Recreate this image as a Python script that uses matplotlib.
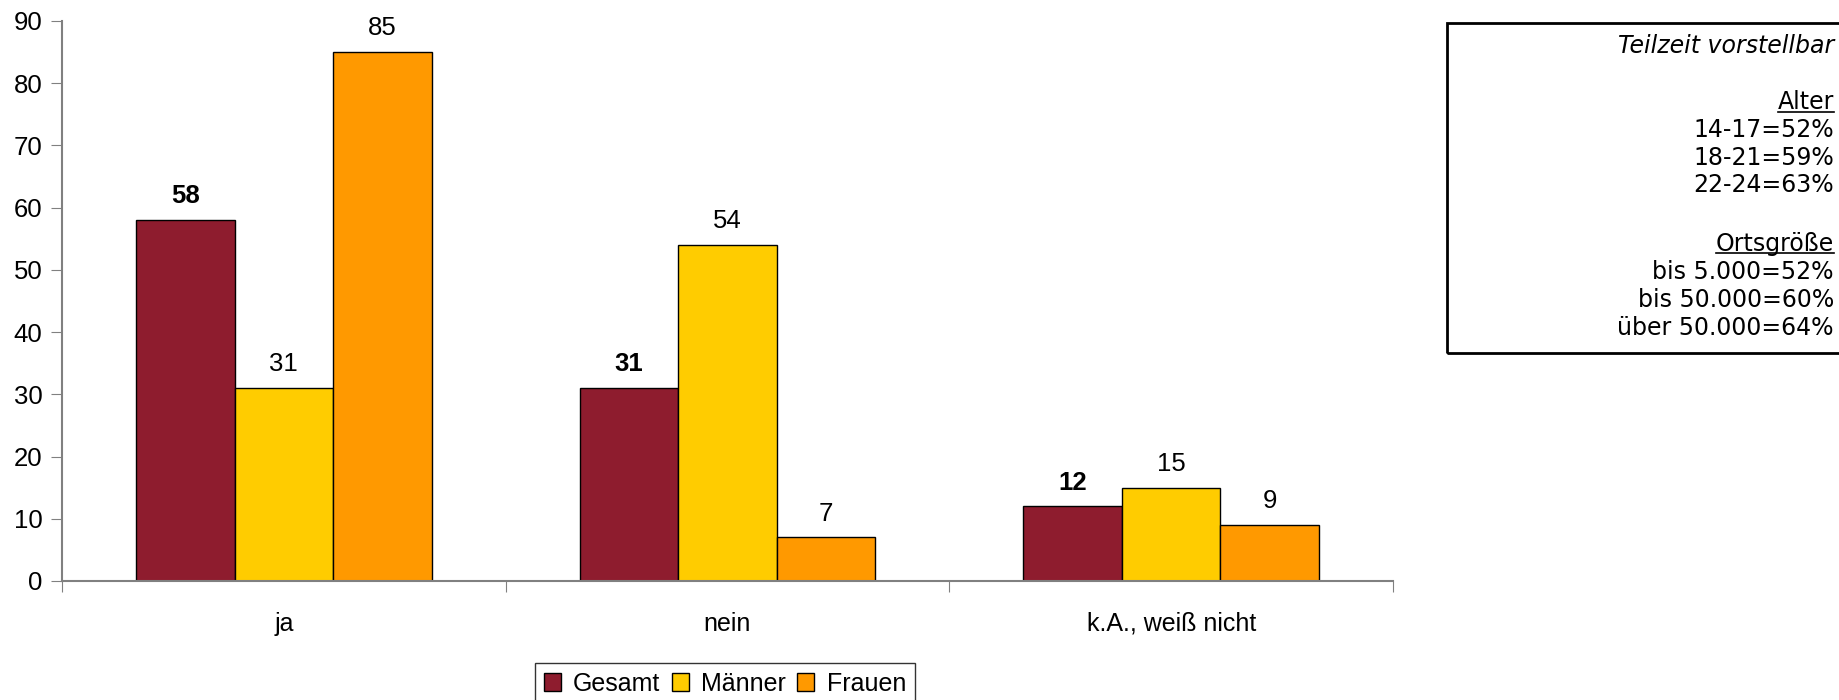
import matplotlib.pyplot as plt
import numpy as np
from matplotlib.lines import Line2D
from matplotlib.patches import Rectangle

CATEGORIES = ["ja", "nein", "k.A., weiß nicht"]
SERIES = ["Gesamt", "Männer", "Frauen"]
GESAMT = [58, 31, 12]
MAENNER = [31, 54, 15]
FRAUEN = [85, 7, 9]
COLORS = ["#8E1C2E", "#FFCC00", "#FF9900"]

BOX_TITLE = "Teilzeit vorstellbar"
ALTER = ["14-17=52%", "18-21=59%", "22-24=63%"]
ORT = ["bis 5.000=52%", "bis 50.000=60%", "über 50.000=64%"]

W, H = 1840, 700
SANS = "Liberation Sans"
fig = plt.figure(figsize=(W / 100, H / 100), dpi=100)
ax = fig.add_axes([62 / W, 1 - 581 / H, (1393 - 62) / W, (581 - 21) / H])

x = np.arange(len(CATEGORIES))
bw = 0.222
for k, (vals, col) in enumerate(zip([GESAMT, MAENNER, FRAUEN], COLORS)):
    bars = ax.bar(x + (k - 1) * bw, vals, bw, color=col, edgecolor="black",
                  linewidth=1.0, label=SERIES[k], zorder=2)
    for b, v in zip(bars, vals):
        ax.annotate(str(v), (b.get_x() + b.get_width() / 2, v), xytext=(0, 12),
                    textcoords="offset points", ha="center", va="baseline",
                    fontsize=18.5, family=SANS,
                    fontweight="bold" if k == 0 else "normal")

ax.set_xlim(-0.5, 2.5)
ax.set_ylim(0, 90)
ax.set_yticks(range(0, 91, 10))
ax.tick_params(axis="y", labelsize=18.5, length=8, color="#808080", pad=6)
for t in ax.get_yticklabels():
    t.set_family(SANS)
ax.set_xticks([-0.5, 0.5, 1.5, 2.5])
ax.set_xticklabels([])
ax.tick_params(axis="x", length=8, color="#808080")
ax.set_xticks(x, minor=True)
ax.set_xticklabels(CATEGORIES, minor=True, fontsize=18, family=SANS)
ax.tick_params(axis="x", which="minor", length=0, pad=22)
for s in ["top", "right"]:
    ax.spines[s].set_visible(False)
for s in ["left", "bottom"]:
    ax.spines[s].set_color("#808080")
    ax.spines[s].set_linewidth(1.5)

leg = fig.legend(loc="upper left", bbox_to_anchor=(535 / W, 1 - 663 / H), ncol=3,
                 prop={"family": SANS, "size": 18}, frameon=True,
                 fancybox=False, edgecolor="black", handlelength=0.68, handleheight=0.68,
                 handletextpad=0.5, columnspacing=0.45, borderpad=0.35, borderaxespad=0)
leg.get_frame().set_linewidth(1.0)

# info box at the top right
fig.patches.append(Rectangle((1447 / W, 1 - 353 / H), 420 / W, 330 / H,
                             transform=fig.transFigure, fill=False,
                             edgecolor="black", linewidth=2.0))
xr = 1834 / W
fig.text(xr, 1 - 53 / H, BOX_TITLE, ha="right", va="baseline", fontsize=17,
         style="italic", family="DejaVu Sans")
underlined = []
rows = [("Alter", 109, True)] + [(s, 109 + 27.8 * (i + 1), False) for i, s in enumerate(ALTER)]
rows += [("Ortsgröße", 251, True)] + [(s, 251 + 28 * (i + 1), False) for i, s in enumerate(ORT)]
for s, yy, ul in rows:
    t = fig.text(xr, 1 - yy / H, s, ha="right", va="baseline", fontsize=17,
                 family="DejaVu Sans")
    if ul:
        underlined.append((t, yy))

fig.canvas.draw()
r = fig.canvas.get_renderer()
for t, yy in underlined:
    bb = t.get_window_extent(r)
    yl = 1 - (yy + 2.5) / H
    fig.add_artist(Line2D([bb.x0 / W, bb.x1 / W], [yl, yl],
                          transform=fig.transFigure, color="black", linewidth=1.2))

fig.savefig("out.png", dpi=100)
